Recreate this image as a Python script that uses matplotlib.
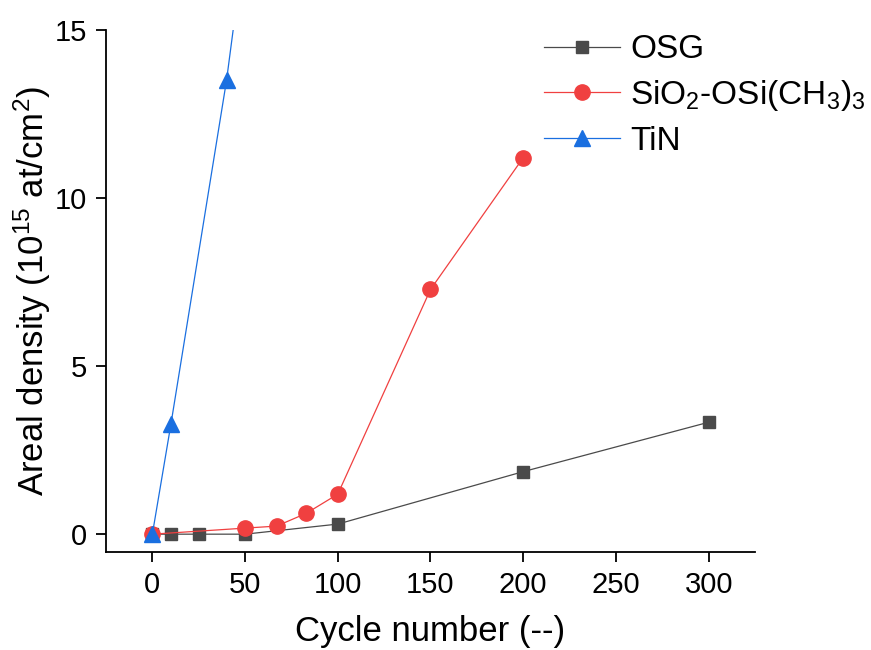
import matplotlib
matplotlib.use("Agg")
import matplotlib.pyplot as plt

plt.rcParams['font.family'] = ['Liberation Sans', 'DejaVu Sans']
plt.rcParams['mathtext.fontset'] = 'custom'
plt.rcParams['mathtext.rm'] = 'Liberation Sans'
plt.rcParams['mathtext.it'] = 'Liberation Sans:italic'
plt.rcParams['mathtext.bf'] = 'Liberation Sans:bold'

osg_x = [0, 10, 25, 50, 100, 200, 300]
osg_y = [0.0, 0.0, 0.0, 0.0, 0.30, 1.86, 3.33]

sio_x = [0, 50, 67, 83, 100, 150, 200]
sio_y = [0.0, 0.18, 0.24, 0.62, 1.19, 7.28, 11.2]

tin_x = [0, 10, 40, 50]
tin_y = [0.0, 3.27, 13.5, 17.7]

xticks = [0, 50, 100, 150, 200, 250, 300]
yticks = [0, 5, 10, 15]

fig = plt.figure(figsize=(8.71, 6.5), dpi=100)
ax = fig.add_axes([0.1217, 0.1508, 0.7451, 0.8030])

ax.plot(osg_x, osg_y, color='#4a4a4a', lw=0.9, marker='s', ms=9,
        markerfacecolor='#4a4a4a', markeredgecolor='#4a4a4a', label='OSG', zorder=3)
ax.plot(sio_x, sio_y, color='#f04040', lw=0.9, marker='o', ms=11,
        markerfacecolor='#f04040', markeredgecolor='#f04040',
        label=r'SiO$_{\mathregular{2}}$-OSi(CH$_{\mathregular{3}}$)$_{\mathregular{3}}$', zorder=4)
ax.plot(tin_x, tin_y, color='#1a6fe0', lw=0.9, marker='^', ms=12,
        markerfacecolor='#1a6fe0', markeredgecolor='#1a6fe0', label='TiN', zorder=5)

ax.set_xlim(-25, 325)
ax.set_ylim(-0.53, 15)
ax.set_xticks(xticks)
ax.set_yticks(yticks)
ax.spines['top'].set_visible(False)
ax.spines['right'].set_visible(False)
for s in ['left', 'bottom']:
    ax.spines[s].set_linewidth(1.3)
ax.tick_params(direction='out', length=7.5, width=1.3, labelsize=21, pad=6)

ax.set_xlabel('Cycle number (--)', fontsize=25, labelpad=12)
ax.set_ylabel(r'Areal density (10$^{\mathregular{15}}$ at/cm$^{\mathregular{2}}$)', fontsize=25, labelpad=1)

leg = fig.legend(loc='upper left', bbox_to_anchor=(0.624, 0.947), frameon=False, fontsize=24,
                 handlelength=2.3, handletextpad=0.3, labelspacing=0.38,
                 borderpad=0, borderaxespad=0)

fig.savefig('out.png', dpi=100)
